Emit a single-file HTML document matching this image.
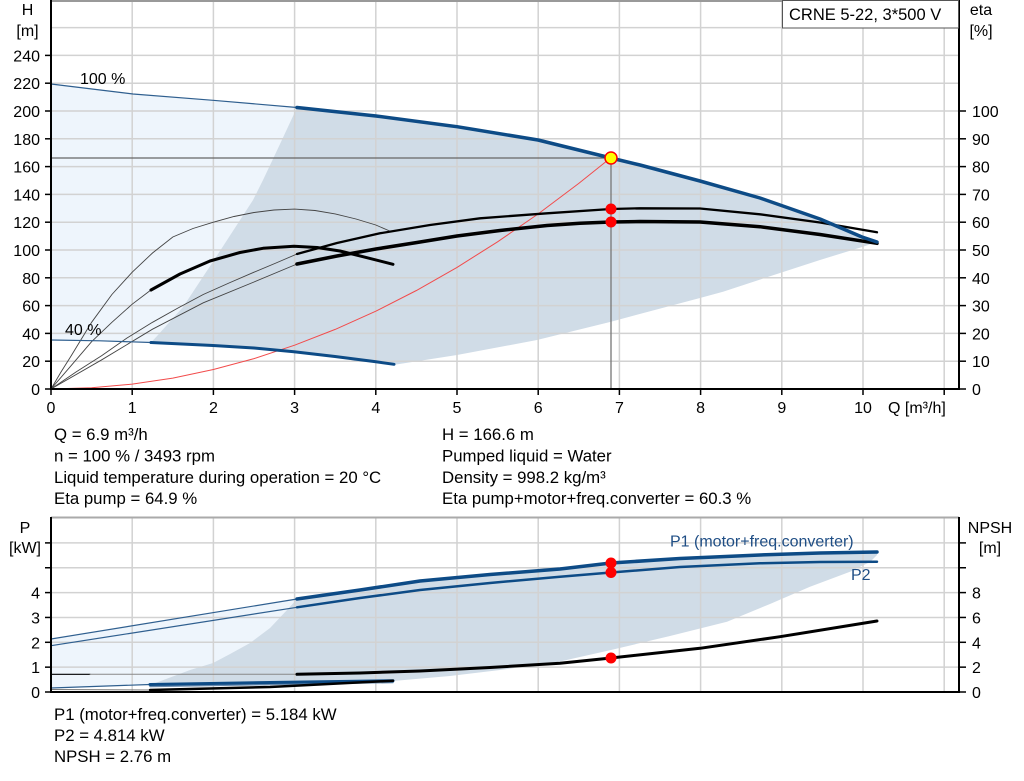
<!DOCTYPE html>
<html><head><meta charset="utf-8"><style>
html,body{margin:0;padding:0;background:#fff;}
svg{display:block;}
text{font-family:"Liberation Sans",Arial,sans-serif;fill:#000;}
</style></head><body>
<svg width="1024" height="781" viewBox="0 0 1024 781" xmlns="http://www.w3.org/2000/svg">
<!-- ============ TOP CHART ============ -->
<!-- fills -->
<path d="M51,84 L92,89 L133,94 L213,100.3 L297,107.5 L280,144 L263,180 L253,200 L218,254 L183,307 L157,336 L151,342.5 L100,340.8 L51,340 Z" fill="#eef5fc"/>
<path d="M297,107.5 L376,116 L457,126.7 L538,140 L611,158 L640,165 L700,181 L760,198 L820,219 L862,237 L877,242 L863,246.7 L820,260 L780,273 L723,291.7 L700,298 L611,321.7 L537,340 L457,355 L393,365 L376,361.8 L335,356.5 L294,351.7 L254,348 L213,345.5 L151,342.5 L157,336 L183,307 L218,254 L253,200 L263,180 L280,144 Z" fill="#d0dce7"/>
<!-- grid -->
<g stroke="#d2d2d2" stroke-width="1.5">
<line x1="51" y1="27.6" x2="959" y2="27.6"/><line x1="51" y1="55.4" x2="959" y2="55.4"/>
<line x1="51" y1="83.2" x2="959" y2="83.2"/><line x1="51" y1="111" x2="959" y2="111"/>
<line x1="51" y1="138.8" x2="959" y2="138.8"/><line x1="51" y1="166.6" x2="959" y2="166.6"/>
<line x1="51" y1="194.4" x2="959" y2="194.4"/><line x1="51" y1="222.2" x2="959" y2="222.2"/>
<line x1="51" y1="250" x2="959" y2="250"/><line x1="51" y1="277.8" x2="959" y2="277.8"/>
<line x1="51" y1="305.6" x2="959" y2="305.6"/><line x1="51" y1="333.4" x2="959" y2="333.4"/>
<line x1="51" y1="361.2" x2="959" y2="361.2"/>
<line x1="132.2" y1="0" x2="132.2" y2="389"/><line x1="213.4" y1="0" x2="213.4" y2="389"/>
<line x1="294.6" y1="0" x2="294.6" y2="389"/><line x1="375.8" y1="0" x2="375.8" y2="389"/>
<line x1="457" y1="0" x2="457" y2="389"/><line x1="538.2" y1="0" x2="538.2" y2="389"/>
<line x1="619.4" y1="0" x2="619.4" y2="389"/><line x1="700.6" y1="0" x2="700.6" y2="389"/>
<line x1="781.8" y1="0" x2="781.8" y2="389"/><line x1="863" y1="0" x2="863" y2="389"/>
<line x1="944.2" y1="0" x2="944.2" y2="389"/>
</g>
<line x1="51" y1="1" x2="959" y2="1" stroke="#999" stroke-width="2"/>
<!-- operating lines -->
<line x1="51" y1="158" x2="611" y2="158" stroke="#666" stroke-width="1.2"/>
<line x1="611" y1="158" x2="611" y2="389" stroke="#777" stroke-width="1.3"/>
<!-- red system curve -->
<path d="M51,389 L91.6,387.8 L132.2,384.1 L172.8,378.1 L213.4,369.5 L254,358.6 L294.6,345.2 L335.2,329.4 L375.8,311.2 L416.4,290.5 L457,267.4 L497.6,241.8 L538.2,213.9 L578.8,183.4 L611.3,157.4" fill="none" stroke="#f24b4b" stroke-width="1"/>
<!-- eta thin curves -->
<g fill="none" stroke="#444" stroke-width="0.9">
<path d="M51,389 L61,372 L71.3,355.6 L91.6,322.3 L111.9,294.5 L132.2,272.2 L152.5,253 L172.8,237 L193,228.5 L213.4,222.2 L234,216.5 L254,212.5 L274,210 L294.6,209.1 L315,210.5 L335.2,213.9 L356,219 L375.8,225 L392,232"/>
<path d="M51,389 L71.3,365.4 L91.6,341.7 L111.9,322.3 L132.2,304.2 L150.9,290"/>
<path d="M51,389 L76,372 L101.75,355.6 L127,338 L152.5,322.3 L178,308 L203.25,294.5 L229,283 L254,272.2 L276,263 L297,254"/>
<path d="M51,389 L101.75,359.8 L152.5,329.2 L203.25,302.8 L254,282 L297,264"/>
</g>
<!-- eta thick curves -->
<g fill="none" stroke="#000" stroke-linejoin="round" stroke-linecap="round">
<path d="M151,290 L180,274 L210,261 L240,252.5 L263,248.3 L294,246.2 L317,247.5 L340,251 L363,256.7 L393,264.3" stroke-width="3"/>
<path d="M297,254 L337,243 L380,233.3 L430,225 L480,218.3 L547,213.3 L611,209 L640,208.3 L700,208.5 L760,214.3 L820,222.5 L877,232.3" stroke-width="2.3"/>
<path d="M297,264 L337,256 L376,249 L417,242.5 L457,236 L500,230.5 L547,225.5 L580,223.3 L611,222 L640,221.5 L700,222 L760,226.7 L820,234.5 L877,243.3" stroke-width="3.5"/>
</g>
<!-- H curves -->
<g fill="none" stroke-linejoin="round" stroke-linecap="round">
<path d="M51,84 L92,89 L133,94 L213,100.3 L297,107.5" stroke="#2f5f8f" stroke-width="1.2"/>
<path d="M51,340 L100,340.8 L151,342.5" stroke="#2f5f8f" stroke-width="1.2"/>
<path d="M297,107.5 L376,116 L457,126.7 L538,140 L611,158 L640,165 L700,181 L760,198 L820,219 L862,237 L877,242" stroke="#0d4b86" stroke-width="3.5"/>
<path d="M151,342.5 L213,345.5 L254,348 L294,351.7 L335,356.5 L376,361.8 L394,364.3" stroke="#0d4b86" stroke-width="3"/>
</g>
<!-- points -->
<circle cx="611" cy="209" r="5.5" fill="#ff0000"/>
<circle cx="611" cy="222" r="5.5" fill="#ff0000"/>
<circle cx="611" cy="158" r="6" fill="#ffff00" stroke="#ff0000" stroke-width="1.5"/>
<!-- axes -->
<g stroke="#000" stroke-width="2">
<line x1="51" y1="0" x2="51" y2="390"/>
<line x1="50" y1="389" x2="960" y2="389"/>
<line x1="959" y1="0" x2="959" y2="390"/>
</g>
<g stroke="#000" stroke-width="1.5">
<line x1="45" y1="389" x2="51" y2="389"/><line x1="45" y1="361.2" x2="51" y2="361.2"/>
<line x1="45" y1="333.4" x2="51" y2="333.4"/><line x1="45" y1="305.6" x2="51" y2="305.6"/>
<line x1="45" y1="277.8" x2="51" y2="277.8"/><line x1="45" y1="250" x2="51" y2="250"/>
<line x1="45" y1="222.2" x2="51" y2="222.2"/><line x1="45" y1="194.4" x2="51" y2="194.4"/>
<line x1="45" y1="166.6" x2="51" y2="166.6"/><line x1="45" y1="138.8" x2="51" y2="138.8"/>
<line x1="45" y1="111" x2="51" y2="111"/><line x1="45" y1="83.2" x2="51" y2="83.2"/>
<line x1="45" y1="55.4" x2="51" y2="55.4"/>
<line x1="959" y1="389" x2="966" y2="389"/><line x1="959" y1="361.2" x2="966" y2="361.2"/>
<line x1="959" y1="333.4" x2="966" y2="333.4"/><line x1="959" y1="305.6" x2="966" y2="305.6"/>
<line x1="959" y1="277.8" x2="966" y2="277.8"/><line x1="959" y1="250" x2="966" y2="250"/>
<line x1="959" y1="222.2" x2="966" y2="222.2"/><line x1="959" y1="194.4" x2="966" y2="194.4"/>
<line x1="959" y1="166.6" x2="966" y2="166.6"/><line x1="959" y1="138.8" x2="966" y2="138.8"/>
<line x1="959" y1="111" x2="966" y2="111"/>
<line x1="51" y1="389" x2="51" y2="395"/><line x1="132.2" y1="389" x2="132.2" y2="395"/>
<line x1="213.4" y1="389" x2="213.4" y2="395"/><line x1="294.6" y1="389" x2="294.6" y2="395"/>
<line x1="375.8" y1="389" x2="375.8" y2="395"/><line x1="457" y1="389" x2="457" y2="395"/>
<line x1="538.2" y1="389" x2="538.2" y2="395"/><line x1="619.4" y1="389" x2="619.4" y2="395"/>
<line x1="700.6" y1="389" x2="700.6" y2="395"/><line x1="781.8" y1="389" x2="781.8" y2="395"/>
<line x1="863" y1="389" x2="863" y2="395"/><line x1="944.2" y1="389" x2="944.2" y2="395"/>
</g>
<!-- legend box -->
<rect x="782.5" y="0.5" width="176" height="27.5" fill="#fff" stroke="#555" stroke-width="1"/>
<text x="789" y="20" font-size="16.5">CRNE 5-22, 3*500 V</text>
<!-- labels -->
<g font-size="16">
<text x="27.5" y="15" text-anchor="middle">H</text>
<text x="27.5" y="36" text-anchor="middle">[m]</text>
<text x="981" y="15" text-anchor="middle">eta</text>
<text x="981" y="36" text-anchor="middle">[%]</text>
<text x="80" y="84">100 %</text>
<text x="65" y="335">40 %</text>
<g text-anchor="end">
<text x="40" y="395">0</text><text x="40" y="367.2">20</text><text x="40" y="339.4">40</text>
<text x="40" y="311.6">60</text><text x="40" y="283.8">80</text><text x="40" y="256">100</text>
<text x="40" y="228.2">120</text><text x="40" y="200.4">140</text><text x="40" y="172.6">160</text>
<text x="40" y="144.8">180</text><text x="40" y="117">200</text><text x="40" y="89.2">220</text>
<text x="40" y="61.4">240</text>
</g>
<g>
<text x="972" y="395">0</text><text x="972" y="367.2">10</text><text x="972" y="339.4">20</text>
<text x="972" y="311.6">30</text><text x="972" y="283.8">40</text><text x="972" y="256">50</text>
<text x="972" y="228.2">60</text><text x="972" y="200.4">70</text><text x="972" y="172.6">80</text>
<text x="972" y="144.8">90</text><text x="972" y="117">100</text>
</g>
<g text-anchor="middle">
<text x="51" y="413">0</text><text x="132.2" y="413">1</text><text x="213.4" y="413">2</text>
<text x="294.6" y="413">3</text><text x="375.8" y="413">4</text><text x="457" y="413">5</text>
<text x="538.2" y="413">6</text><text x="619.4" y="413">7</text><text x="700.6" y="413">8</text>
<text x="781.8" y="413">9</text><text x="863" y="413">10</text>
</g>
<text x="888" y="413">Q [m³/h]</text>
</g>
<!-- info text -->
<g font-size="16.8">
<text x="54" y="440">Q = 6.9 m³/h</text>
<text x="54" y="461.5">n = 100 % / 3493 rpm</text>
<text x="54" y="483">Liquid temperature during operation = 20 °C</text>
<text x="54" y="504">Eta pump = 64.9 %</text>
<text x="442" y="440">H = 166.6 m</text>
<text x="442" y="461.5">Pumped liquid = Water</text>
<text x="442" y="483">Density = 998.2 kg/m³</text>
<text x="442" y="504">Eta pump+motor+freq.converter = 60.3 %</text>
</g>

<!-- ============ BOTTOM CHART ============ -->
<path d="M51,639 L297,599 L287,610 L270,628 L250,643 L230,654 L213,663 L190,670 L150,685 L100,686.5 L51,688 Z" fill="#eef5fc"/>
<path d="M297,599 L360,590 L420,581 L490,574.5 L560,569 L611,563 L680,558.5 L760,555 L820,553 L877,552 L877,555 L870,562 L850,571.7 L810,586.7 L770,604 L727,621.7 L670,636 L611,650 L560,661.5 L500,670 L450,676 L393,681 L330,682 L270,683 L210,684 L150,685 L190,670 L213,663 L230,654 L250,643 L270,628 L287,610 Z" fill="#d0dce7"/>
<g stroke="#d2d2d2" stroke-width="1.5">
<line x1="51" y1="667.15" x2="959" y2="667.15"/><line x1="51" y1="642.3" x2="959" y2="642.3"/>
<line x1="51" y1="617.45" x2="959" y2="617.45"/><line x1="51" y1="592.6" x2="959" y2="592.6"/>
<line x1="51" y1="567.75" x2="959" y2="567.75"/><line x1="51" y1="542.9" x2="959" y2="542.9"/>
<line x1="132.2" y1="517" x2="132.2" y2="692"/><line x1="213.4" y1="517" x2="213.4" y2="692"/>
<line x1="294.6" y1="517" x2="294.6" y2="692"/><line x1="375.8" y1="517" x2="375.8" y2="692"/>
<line x1="457" y1="517" x2="457" y2="692"/><line x1="538.2" y1="517" x2="538.2" y2="692"/>
<line x1="619.4" y1="517" x2="619.4" y2="692"/><line x1="700.6" y1="517" x2="700.6" y2="692"/>
<line x1="781.8" y1="517" x2="781.8" y2="692"/><line x1="863" y1="517" x2="863" y2="692"/>
<line x1="944.2" y1="517" x2="944.2" y2="692"/>
</g>
<line x1="51" y1="517.5" x2="959" y2="517.5" stroke="#aaa" stroke-width="2"/>
<!-- curves -->
<g fill="none" stroke-linejoin="round" stroke-linecap="round">
<path d="M51,639 L297,599" stroke="#2f5f8f" stroke-width="1.2"/>
<path d="M51,645.7 L297,607.3" stroke="#2f5f8f" stroke-width="1.2"/>
<path d="M51,688 L150,684.5" stroke="#2f5f8f" stroke-width="1.2"/>
<path d="M51,689.5 L150,690" stroke="#777" stroke-width="1"/>
<path d="M51,674.3 L90,674.3" stroke="#000" stroke-width="1.2"/>
<path d="M90,674.3 L297,674.3" stroke="#888" stroke-width="1"/>
<path d="M150,686.5 L393,682.5" stroke="#6a8caf" stroke-width="1.5"/>
<path d="M150,684.5 L270,682.5 L393,680.7" stroke="#0d4b86" stroke-width="3"/>
<path d="M150,690 L270,687 L393,680.7" stroke="#000" stroke-width="2.5"/>
<path d="M297,599 L360,590 L420,581 L490,574.5 L560,569 L611,563 L680,558.5 L760,555 L820,553 L877,552" stroke="#0d4b86" stroke-width="3.5"/>
<path d="M297,607.3 L360,598 L420,590 L490,583 L560,576.7 L611,572.5 L680,567 L760,563.3 L820,562 L877,561.7" stroke="#0d4b86" stroke-width="2.5"/>
<path d="M297,674.3 L360,673 L420,671 L490,667.5 L560,663.3 L611,658 L700,648.3 L780,636.7 L877,621" stroke="#000" stroke-width="3"/>
</g>
<circle cx="611" cy="563" r="5.5" fill="#ff0000"/>
<circle cx="611" cy="572.5" r="5.5" fill="#ff0000"/>
<circle cx="611" cy="658" r="5.5" fill="#ff0000"/>
<!-- axes -->
<g stroke="#000" stroke-width="2">
<line x1="51" y1="517" x2="51" y2="693"/>
<line x1="50" y1="692" x2="960" y2="692"/>
<line x1="959" y1="517" x2="959" y2="693"/>
</g>
<g stroke="#000" stroke-width="1.5">
<line x1="45" y1="692" x2="51" y2="692"/><line x1="45" y1="667.15" x2="51" y2="667.15"/>
<line x1="45" y1="642.3" x2="51" y2="642.3"/><line x1="45" y1="617.45" x2="51" y2="617.45"/>
<line x1="45" y1="592.6" x2="51" y2="592.6"/><line x1="45" y1="567.75" x2="51" y2="567.75"/>
<line x1="45" y1="542.9" x2="51" y2="542.9"/>
<line x1="959" y1="692" x2="966" y2="692"/><line x1="959" y1="667.15" x2="966" y2="667.15"/>
<line x1="959" y1="642.3" x2="966" y2="642.3"/><line x1="959" y1="617.45" x2="966" y2="617.45"/>
<line x1="959" y1="592.6" x2="966" y2="592.6"/><line x1="959" y1="567.75" x2="966" y2="567.75"/>
<line x1="959" y1="542.9" x2="966" y2="542.9"/>
</g>
<g font-size="16">
<text x="25" y="533" text-anchor="middle">P</text>
<text x="25" y="553" text-anchor="middle">[kW]</text>
<text x="990" y="533" text-anchor="middle">NPSH</text>
<text x="990" y="553" text-anchor="middle">[m]</text>
<g text-anchor="end">
<text x="40" y="698">0</text><text x="40" y="673.15">1</text><text x="40" y="648.3">2</text>
<text x="40" y="623.45">3</text><text x="40" y="598.6">4</text>
</g>
<text x="972" y="698">0</text><text x="972" y="673.15">2</text><text x="972" y="648.3">4</text>
<text x="972" y="623.45">6</text><text x="972" y="598.6">8</text>
<text x="670" y="546.5" style="fill:#1f4e85">P1 (motor+freq.converter)</text>
<text x="851" y="580" style="fill:#1f4e85">P2</text>
</g>
<g font-size="16.8">
<text x="54" y="720">P1 (motor+freq.converter) = 5.184 kW</text>
<text x="54" y="741">P2 = 4.814 kW</text>
<text x="54" y="762">NPSH = 2.76 m</text>
</g>
</svg>
</body></html>
